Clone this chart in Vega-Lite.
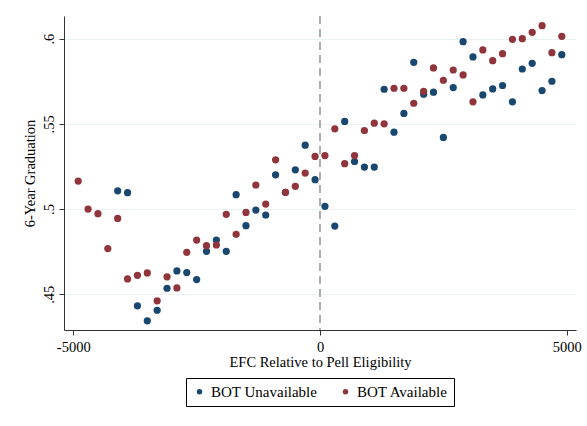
{
  "$schema": "https://vega.github.io/schema/vega-lite/v6.json",
  "width": 512,
  "height": 314,
  "autosize": "none",
  "padding": {"left": 64, "top": 16, "right": 11, "bottom": 96},
  "background": "white",
  "config": {
    "font": "Liberation Serif",
    "view": {"stroke": null},
    "axis": {
      "labelFont": "Liberation Serif",
      "titleFont": "Liberation Serif",
      "labelFontSize": 14.5,
      "titleFontSize": 14.5,
      "labelColor": "black",
      "titleColor": "black",
      "titleFontWeight": "normal",
      "domainColor": "#333333",
      "tickColor": "#333333",
      "tickSize": 5,
      "gridColor": "#eaf2f3",
      "gridWidth": 1
    },
    "legend": {
      "labelFont": "Liberation Serif",
      "labelFontSize": 15,
      "labelColor": "black"
    }
  },
  "layer": [
    {
      "data": {"values": [{"ref": 0}]},
      "mark": {"type": "rule", "color": "#a0a0a0", "strokeWidth": 1.7, "strokeDash": [8, 5]},
      "encoding": {
        "x": {"field": "ref", "type": "quantitative", "scale": {"domain": [-5188, 5188], "nice": false, "zero": false}}
      }
    },
    {
      "data": {
        "values": [
          {"efc": -4100, "grad": 0.5107, "group": "BOT Unavailable"},
          {"efc": -3900, "grad": 0.5096, "group": "BOT Unavailable"},
          {"efc": -3700, "grad": 0.4432, "group": "BOT Unavailable"},
          {"efc": -3500, "grad": 0.4344, "group": "BOT Unavailable"},
          {"efc": -3300, "grad": 0.4406, "group": "BOT Unavailable"},
          {"efc": -3100, "grad": 0.4535, "group": "BOT Unavailable"},
          {"efc": -2900, "grad": 0.4637, "group": "BOT Unavailable"},
          {"efc": -2700, "grad": 0.4627, "group": "BOT Unavailable"},
          {"efc": -2500, "grad": 0.4586, "group": "BOT Unavailable"},
          {"efc": -2300, "grad": 0.4752, "group": "BOT Unavailable"},
          {"efc": -2100, "grad": 0.4818, "group": "BOT Unavailable"},
          {"efc": -1900, "grad": 0.4752, "group": "BOT Unavailable"},
          {"efc": -1700, "grad": 0.5084, "group": "BOT Unavailable"},
          {"efc": -1500, "grad": 0.4902, "group": "BOT Unavailable"},
          {"efc": -1300, "grad": 0.4994, "group": "BOT Unavailable"},
          {"efc": -1100, "grad": 0.4965, "group": "BOT Unavailable"},
          {"efc": -900, "grad": 0.5201, "group": "BOT Unavailable"},
          {"efc": -700, "grad": 0.5098, "group": "BOT Unavailable"},
          {"efc": -500, "grad": 0.5230, "group": "BOT Unavailable"},
          {"efc": -300, "grad": 0.5375, "group": "BOT Unavailable"},
          {"efc": -100, "grad": 0.5172, "group": "BOT Unavailable"},
          {"efc": 100, "grad": 0.5016, "group": "BOT Unavailable"},
          {"efc": 300, "grad": 0.4900, "group": "BOT Unavailable"},
          {"efc": 500, "grad": 0.5514, "group": "BOT Unavailable"},
          {"efc": 700, "grad": 0.5279, "group": "BOT Unavailable"},
          {"efc": 900, "grad": 0.5246, "group": "BOT Unavailable"},
          {"efc": 1100, "grad": 0.5246, "group": "BOT Unavailable"},
          {"efc": 1300, "grad": 0.5703, "group": "BOT Unavailable"},
          {"efc": 1500, "grad": 0.5451, "group": "BOT Unavailable"},
          {"efc": 1700, "grad": 0.5561, "group": "BOT Unavailable"},
          {"efc": 1900, "grad": 0.5861, "group": "BOT Unavailable"},
          {"efc": 2100, "grad": 0.5674, "group": "BOT Unavailable"},
          {"efc": 2300, "grad": 0.5686, "group": "BOT Unavailable"},
          {"efc": 2500, "grad": 0.5420, "group": "BOT Unavailable"},
          {"efc": 2700, "grad": 0.5713, "group": "BOT Unavailable"},
          {"efc": 2900, "grad": 0.5982, "group": "BOT Unavailable"},
          {"efc": 3100, "grad": 0.5893, "group": "BOT Unavailable"},
          {"efc": 3300, "grad": 0.5670, "group": "BOT Unavailable"},
          {"efc": 3500, "grad": 0.5705, "group": "BOT Unavailable"},
          {"efc": 3700, "grad": 0.5725, "group": "BOT Unavailable"},
          {"efc": 3900, "grad": 0.5629, "group": "BOT Unavailable"},
          {"efc": 4100, "grad": 0.5822, "group": "BOT Unavailable"},
          {"efc": 4300, "grad": 0.5855, "group": "BOT Unavailable"},
          {"efc": 4500, "grad": 0.5695, "group": "BOT Unavailable"},
          {"efc": 4700, "grad": 0.5750, "group": "BOT Unavailable"},
          {"efc": 4900, "grad": 0.5906, "group": "BOT Unavailable"},
          {"efc": -4900, "grad": 0.5164, "group": "BOT Available"},
          {"efc": -4700, "grad": 0.5000, "group": "BOT Available"},
          {"efc": -4500, "grad": 0.4973, "group": "BOT Available"},
          {"efc": -4300, "grad": 0.4768, "group": "BOT Available"},
          {"efc": -4100, "grad": 0.4945, "group": "BOT Available"},
          {"efc": -3900, "grad": 0.4590, "group": "BOT Available"},
          {"efc": -3700, "grad": 0.4611, "group": "BOT Available"},
          {"efc": -3500, "grad": 0.4625, "group": "BOT Available"},
          {"efc": -3300, "grad": 0.4461, "group": "BOT Available"},
          {"efc": -3100, "grad": 0.4602, "group": "BOT Available"},
          {"efc": -2900, "grad": 0.4537, "group": "BOT Available"},
          {"efc": -2700, "grad": 0.4746, "group": "BOT Available"},
          {"efc": -2500, "grad": 0.4818, "group": "BOT Available"},
          {"efc": -2300, "grad": 0.4785, "group": "BOT Available"},
          {"efc": -2100, "grad": 0.4789, "group": "BOT Available"},
          {"efc": -1900, "grad": 0.4969, "group": "BOT Available"},
          {"efc": -1700, "grad": 0.4852, "group": "BOT Available"},
          {"efc": -1500, "grad": 0.4980, "group": "BOT Available"},
          {"efc": -1300, "grad": 0.5141, "group": "BOT Available"},
          {"efc": -1100, "grad": 0.5029, "group": "BOT Available"},
          {"efc": -900, "grad": 0.5289, "group": "BOT Available"},
          {"efc": -700, "grad": 0.5098, "group": "BOT Available"},
          {"efc": -500, "grad": 0.5133, "group": "BOT Available"},
          {"efc": -300, "grad": 0.5211, "group": "BOT Available"},
          {"efc": -100, "grad": 0.5309, "group": "BOT Available"},
          {"efc": 100, "grad": 0.5314, "group": "BOT Available"},
          {"efc": 300, "grad": 0.5471, "group": "BOT Available"},
          {"efc": 500, "grad": 0.5266, "group": "BOT Available"},
          {"efc": 700, "grad": 0.5314, "group": "BOT Available"},
          {"efc": 900, "grad": 0.5461, "group": "BOT Available"},
          {"efc": 1100, "grad": 0.5504, "group": "BOT Available"},
          {"efc": 1300, "grad": 0.5500, "group": "BOT Available"},
          {"efc": 1500, "grad": 0.5709, "group": "BOT Available"},
          {"efc": 1700, "grad": 0.5709, "group": "BOT Available"},
          {"efc": 1900, "grad": 0.5621, "group": "BOT Available"},
          {"efc": 2100, "grad": 0.5691, "group": "BOT Available"},
          {"efc": 2300, "grad": 0.5828, "group": "BOT Available"},
          {"efc": 2500, "grad": 0.5756, "group": "BOT Available"},
          {"efc": 2700, "grad": 0.5816, "group": "BOT Available"},
          {"efc": 2900, "grad": 0.5787, "group": "BOT Available"},
          {"efc": 3100, "grad": 0.5629, "group": "BOT Available"},
          {"efc": 3300, "grad": 0.5934, "group": "BOT Available"},
          {"efc": 3500, "grad": 0.5871, "group": "BOT Available"},
          {"efc": 3700, "grad": 0.5912, "group": "BOT Available"},
          {"efc": 3900, "grad": 0.5996, "group": "BOT Available"},
          {"efc": 4100, "grad": 0.6000, "group": "BOT Available"},
          {"efc": 4300, "grad": 0.6037, "group": "BOT Available"},
          {"efc": 4500, "grad": 0.6076, "group": "BOT Available"},
          {"efc": 4700, "grad": 0.5918, "group": "BOT Available"},
          {"efc": 4900, "grad": 0.6014, "group": "BOT Available"}
        ]
      },
      "mark": {"type": "point", "filled": true, "opacity": 1, "size": 52, "shape": "circle"},
      "encoding": {
        "x": {
          "field": "efc", "type": "quantitative",
          "scale": {"domain": [-5188, 5188], "nice": false, "zero": false},
          "axis": {"values": [-5000, 0, 5000], "labelExpr": "toString(datum.value)", "title": "EFC Relative to Pell Eligibility", "grid": false, "labelPadding": 5, "titlePadding": 2, "labelFlush": false}
        },
        "y": {
          "field": "grad", "type": "quantitative",
          "scale": {"domain": [0.429, 0.6133], "nice": false, "zero": false},
          "axis": {
            "values": [0.45, 0.5, 0.55, 0.6],
            "labelExpr": "substring(format(datum.value, '.2~f'), 1)",
            "labelAngle": -90, "labelAlign": "center", "labelBaseline": "alphabetic",
            "labelPadding": 6, "grid": true, "title": "6-Year Graduation", "titlePadding": 4
          }
        },
        "color": {
          "field": "group", "type": "nominal",
          "scale": {"domain": ["BOT Unavailable", "BOT Available"], "range": ["#1a476f", "#90353b"]},
          "legend": {
            "title": null, "orient": "none", "direction": "horizontal",
            "legendX": 122, "legendY": 362,
            "strokeColor": "black", "padding": 6, "symbolSize": 30, "symbolType": "circle",
            "labelOffset": 4, "columnPadding": 20
          }
        }
      }
    }
  ]
}
